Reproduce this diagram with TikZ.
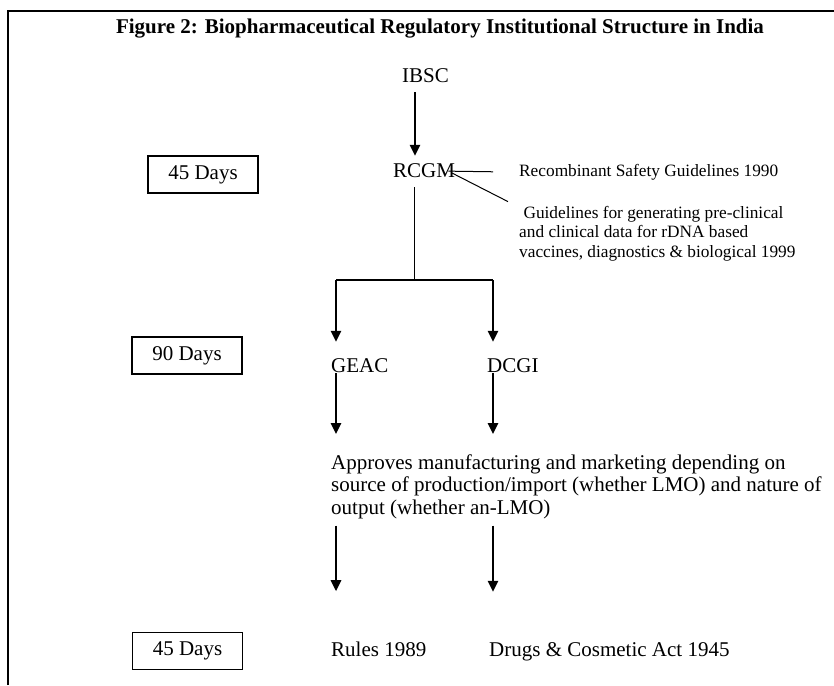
\documentclass[tikz,border=0pt]{standalone}
\usepackage{fontspec}
\setmainfont{Liberation Serif}
\usetikzlibrary{arrows.meta,calc}
\begin{document}
\begin{tikzpicture}[x=1pt,y=-1pt,
  bigtxt/.style={font=\fontsize{21}{22.5}\selectfont, inner sep=0pt, anchor=base west},
  smalltxt/.style={font=\fontsize{17.3}{19.5}\selectfont, inner sep=0pt, anchor=base west},
  daybox/.style={draw, line width=1.3pt, minimum width=110pt, minimum height=37pt, inner sep=0pt, font=\fontsize{21}{22}\selectfont},
  flow/.style={line width=2.5pt, -{Triangle[width=10pt,length=11pt]}},
  thinline/.style={line width=1pt},
  branch/.style={line width=1.4pt}]
\useasboundingbox (0,0) rectangle (834,685);
\draw[line width=2pt] (8,685) -- (8,11) -- (834,11);

\node[font=\bfseries\fontsize{21}{22}\selectfont, inner sep=0pt, anchor=base] (title) at (440,34)
  {Figure 2: Biopharmaceutical Regulatory Institutional Structure in India};

\node[bigtxt] (ibsc) at (402,82) {IBSC};
\node[bigtxt] (rcgm) at (393,177) {RCGM};
\node[smalltxt] (recomb) at (519,176) {Recombinant Safety Guidelines 1990};
\node[smalltxt, align=left] (guide) at (519,257)
  {\ Guidelines for generating pre-clinical\\and clinical data for rDNA based\\vaccines, diagnostics \& biological 1999};

\node[daybox] (d1) at (203,174.5) {45 Days};
\node[daybox] (d2) at (187,355.5) {90 Days};
\node[daybox] (d3) at (187.5,651) {45 Days};

\node[bigtxt] (geac) at (331,372) {GEAC};
\node[bigtxt] (dcgi) at (487,372) {DCGI};

\node[bigtxt, align=left] (approve) at (331,514)
  {Approves manufacturing and marketing depending on\\source of production/import (whether LMO) and nature of\\output (whether an-LMO)};

\node[bigtxt] (rules) at (331,656) {Rules 1989};
\node[bigtxt] (drugs) at (489,656) {Drugs \& Cosmetic Act 1945};

% IBSC -> RCGM
\draw[flow] ($(ibsc.south west)+(13,10)$) -- ($(ibsc.south west |- rcgm.north)+(13,-7)$);

% guideline lines to RCGM
\draw[thinline] ($(recomb.west)+(-26,0)$) -- ($(rcgm.east)+(-7,1)$);
\draw[thinline] ($(guide.north west)+(-11,-4)$) -- ($(rcgm.east)+(-3,3)$);

% RCGM branch
\coordinate (split) at (414,280);
\coordinate (splitL) at (336,280);
\coordinate (splitR) at (493,280);
\draw[thinline] ($(rcgm.south west)+(21,10)$) -- (split);
\draw[branch] (splitL) -- (splitR);
\draw[flow] (splitL) -- ($(geac.north west)+(5,-16)$);
\draw[flow] (splitR) -- ($(dcgi.north west)+(6,-16)$);

% GEAC / DCGI -> approves
\draw[flow] ($(geac.south west)+(5,1)$) -- ($(geac.south west |- approve.north)+(5,-20)$);
\draw[flow] ($(dcgi.south west)+(6,1)$) -- ($(dcgi.south west |- approve.north)+(6,-20)$);

% approves -> acts
\draw[flow] ($(rules.north west |- approve.south)+(5,7)$) -- ($(rules.north west)+(5,-50)$);
\draw[flow] ($(drugs.north west |- approve.south)+(4,7)$) -- ($(drugs.north west)+(4,-50)$);
\end{tikzpicture}
\end{document}
